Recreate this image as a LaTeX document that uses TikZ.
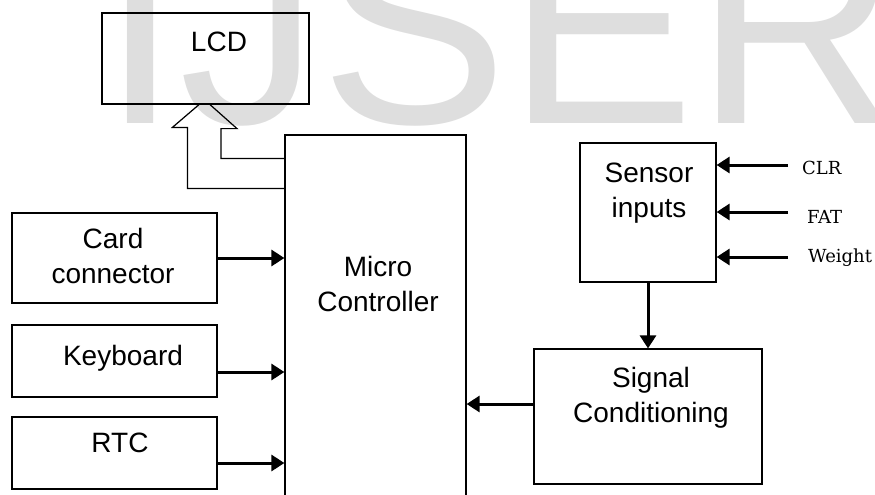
\documentclass[tikz,border=0pt]{standalone}
\usepackage{fontspec}
\setmainfont{Liberation Sans}
\newfontfamily\inputfont{DejaVu Serif}
\usetikzlibrary{calc,arrows.meta}
\usetikzlibrary{positioning}
\definecolor{wmgray}{RGB}{222,222,222}

\begin{document}
\begin{tikzpicture}[x=1pt,y=-1pt,
  blk/.style={draw,line width=1.2pt,inner sep=0pt},
  txt/.style={inner sep=0pt,align=center,font=\fontsize{28}{35}\selectfont},
  inp/.style={inner sep=0pt,anchor=west,font=\inputfont\fontsize{18}{20}\selectfont},
  bus/.style={line width=3pt,-{Triangle[length=13pt,width=16pt]}}]
\useasboundingbox (0,0) rectangle (875,495);
\clip (0,0) rectangle (875,495);
% watermark
\node[anchor=base west,inner sep=0pt,text=wmgray,font=\fontsize{281}{281}\selectfont](wm) at (101.6,123){IJSER};
% blocks
\node[blk,minimum width=207pt,minimum height=91pt](lcd) at (205.5,58.5){};
\node[blk,minimum width=181pt,minimum height=425pt](mc) at (375.5,347.5){};
\node[blk,minimum width=205pt,minimum height=90pt](card) at (114.5,258){};
\node[blk,minimum width=205pt,minimum height=72pt](kbd) at (114.5,361){};
\node[blk,minimum width=205pt,minimum height=72pt](rtc) at (114.5,453){};
\node[blk,minimum width=136pt,minimum height=139pt](sensor) at (648,212.5){};
\node[blk,minimum width=228pt,minimum height=135pt](sig) at (648,416.5){};
% block texts
\node[txt](lcdT) at (219,42){LCD};
\node[txt](mcT) at (378,284){Micro\\Controller};
\node[txt](cardT) at (113,256){Card\\connector};
\node[txt](kbdT) at (123,358){Keyboard};
\node[txt](rtcT) at (120,443){RTC};
\node[txt](sensorT) at (649,193){Sensor\\inputs};
\node[txt](sigT) at (651,398){Signal\\Conditioning};
% inputs
\coordinate (clrIn) at (788,165);
\coordinate (fatIn) at (788,212);
\coordinate (wtIn) at (788,257);
\node[inp](clr) at (802,168){CLR};
\node[inp](fat) at (807,217){FAT};
\node[inp](wt) at (808,258){Weight};
\draw[bus] (clrIn) -- (clrIn -| sensor.east);
\draw[bus] (fatIn) -- (fatIn -| sensor.east);
\draw[bus] (wtIn) -- (wtIn -| sensor.east);
% signal path
\draw[bus] (sensor.south) -- (sig.north);
\draw[bus] ([yshift=12.5pt]sig.west) -- ([yshift=12.5pt]sig.west -| mc.east);
\draw[bus] (card.east) -- (card.east -| mc.west);
\draw[bus] ([yshift=-11pt]kbd.east) -- ([yshift=-11pt]kbd.east -| mc.west);
\draw[bus] ([yshift=-10pt]rtc.east) -- ([yshift=-10pt]rtc.east -| mc.west);
% hollow bus arrow to lcd
\draw[line width=1.2pt] ($(mc.north west)+(0,54)$) -| ++(-97,-61) -- ++(-15,0) -- ($(lcd.south)+(-6.5,0)$);
\draw[line width=1.2pt] ($(lcd.south)+(4.5,0)$) -- ++(27,24) -- ++(-16,0) |- ($(mc.north west)+(0,24)$);
\end{tikzpicture}
\end{document}
